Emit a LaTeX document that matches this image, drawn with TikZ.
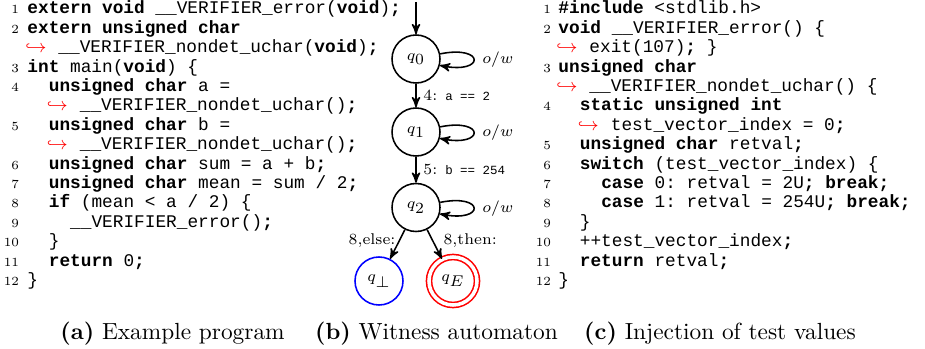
\documentclass[tikz,border=0pt]{standalone}
\usepackage{amsmath}
\usepackage{fontspec}
\setmonofont{Liberation Mono}
\usepackage{xcolor}
\usetikzlibrary{arrows}

% fonts for the listings, the automaton and the captions
\newcommand\codefont{\ttfamily\fontsize{8}{9}\selectfont}
\newcommand\numfont{\rmfamily\fontsize{5.6}{6.5}\selectfont}
\newcommand\autofont{\rmfamily\fontsize{7}{8}\selectfont}
\newcommand\captfont{\rmfamily\fontsize{10.5}{12}\selectfont}
\newcommand\ttl[1]{{\ttfamily\fontsize{5.6}{6}\selectfont #1}}

\begin{document}
\begin{tikzpicture}[x=0.45pt, y=-0.45pt, >=stealth',
    code/.style={anchor=base west, inner sep=0pt, font=\codefont},
    lnum/.style={anchor=base east, inner sep=0pt, font=\numfont},
    hook/.style={anchor=base west, inner sep=0pt, font=\codefont, text=red},
    state/.style={circle, draw, minimum size=21.6pt, inner sep=0pt, line width=0.7pt, font=\autofont},
    trans/.style={->, line width=0.7pt},
    lbl/.style={font=\autofont, inner sep=1.5pt},
    capt/.style={anchor=base, font=\captfont}]

    \useasboundingbox (0,0) rectangle (925,349);

    % (a) example program
    \foreach \n/\r in {1/0,2/1,3/3,4/4,5/6,6/8,7/9,8/10,9/11,10/12,11/13,12/14}
        \node[lnum] (na\n) at (19.5,{14+19.4*\r}) {\n};

    \node[code] (a1) at (27,14) {\textbf{extern void} \_\_VERIFIER\_error(\textbf{void})\textbf{;}};
    \node[code] (a2) at (27,33.4) {\textbf{extern unsigned char}};
    \node[hook] (a2h) at (25,52.8) {$\hookrightarrow$};
    \node[code] (a2b) at (58,52.8) {\_\_VERIFIER\_nondet\_uchar(\textbf{void})\textbf{;}};
    \node[code] (a3) at (27,72.2) {\textbf{int} main(\textbf{void}) \{};
    \node[code] (a4) at (48.4,91.6) {\textbf{unsigned char} a =};
    \node[hook] (a4h) at (46.4,111) {$\hookrightarrow$};
    \node[code] (a4b) at (79.4,111) {\_\_VERIFIER\_nondet\_uchar()\textbf{;}};
    \node[code] (a5) at (48.4,130.4) {\textbf{unsigned char} b =};
    \node[hook] (a5h) at (46.4,149.8) {$\hookrightarrow$};
    \node[code] (a5b) at (79.4,149.8) {\_\_VERIFIER\_nondet\_uchar()\textbf{;}};
    \node[code] (a6) at (48.4,169.2) {\textbf{unsigned char} sum = a + b\textbf{;}};
    \node[code] (a7) at (48.4,188.6) {\textbf{unsigned char} mean = sum / 2\textbf{;}};
    \node[code] (a8) at (48.4,208) {\textbf{if} (mean < a / 2) \{};
    \node[code] (a9) at (69.8,227.4) {\_\_VERIFIER\_error()\textbf{;}};
    \node[code] (a10) at (48.4,246.8) {\}};
    \node[code] (a11) at (48.4,266.2) {\textbf{return} 0\textbf{;}};
    \node[code] (a12) at (27,285.6) {\}};

    % (b) witness automaton
    \node[state] (q0) at (416,59) {$q_{\displaystyle 0}$};
    \node[state] (q1) at (416,132) {$q_{\displaystyle 1}$};
    \node[state] (q2) at (416,207.5) {$q_{\displaystyle 2}$};
    \node[state, draw=blue] (qbot) at (379,281) {$q_{\displaystyle\bot}$};
    \node[state, draw=red, double, double distance=1.6pt] (qerr) at (453,281) {$q_{\displaystyle E}$};

    \coordinate (init) at (416,2);
    \draw[trans] (init) -- (q0);
    \draw[trans] (q0) -- node[lbl, right, inner sep=3pt] (e01) {4: \ttl{a == 2}} (q1);
    \draw[trans] (q1) -- node[lbl, right, inner sep=3pt] (e12) {5: \ttl{b == 254}} (q2);
    \draw[trans] (q2) -- node[lbl, anchor=east, pos=0.36] (e2b) {8,else:} (qbot);
    \draw[trans] (q2) -- node[lbl, anchor=west, pos=0.38, xshift=3pt] (e2e) {8,then:} (qerr);

    % self loops
    \draw[trans] (q0.12) .. controls +(45,-9) and +(45,9) .. node[lbl, right=2pt] (l0) {$o/w$} (q0.-15);
    \draw[trans] (q1.12) .. controls +(45,-9) and +(45,9) .. node[lbl, right=2pt] (l1) {$o/w$} (q1.-15);
    \draw[trans] (q2.12) .. controls +(45,-9) and +(45,9) .. node[lbl, right=2pt] (l2) {$o/w$} (q2.-15);

    % (c) injection of test values
    \foreach \n/\r in {1/0,2/1,3/3,4/5,5/7,6/8,7/9,8/10,9/11,10/12,11/13,12/14}
        \node[lnum] (nc\n) at (551.5,{14+19.4*\r}) {\n};

    \node[code] (c1) at (558,14) {\textbf{\#include} <stdlib.h>};
    \node[code] (c2) at (558,33.4) {\textbf{void} \_\_VERIFIER\_error() \{};
    \node[hook] (c2h) at (556,52.8) {$\hookrightarrow$};
    \node[code] (c2b) at (589,52.8) {exit(107)\textbf{;} \}};
    \node[code] (c3) at (558,72.2) {\textbf{unsigned char}};
    \node[hook] (c3h) at (556,91.6) {$\hookrightarrow$};
    \node[code] (c3b) at (589,91.6) {\_\_VERIFIER\_nondet\_uchar() \{};
    \node[code] (c4) at (579.4,111) {\textbf{static unsigned int}};
    \node[hook] (c4h) at (577.4,130.4) {$\hookrightarrow$};
    \node[code] (c4b) at (610.4,130.4) {test\_vector\_index = 0\textbf{;}};
    \node[code] (c5) at (579.4,149.8) {\textbf{unsigned char} retval\textbf{;}};
    \node[code] (c6) at (579.4,169.2) {\textbf{switch} (test\_vector\_index) \{};
    \node[code] (c7) at (600.8,188.6) {\textbf{case} 0: retval = 2U\textbf{;} \textbf{break;}};
    \node[code] (c8) at (600.8,208) {\textbf{case} 1: retval = 254U\textbf{;} \textbf{break;}};
    \node[code] (c9) at (579.4,227.4) {\}};
    \node[code] (c10) at (579.4,246.8) {++test\_vector\_index\textbf{;}};
    \node[code] (c11) at (579.4,266.2) {\textbf{return} retval\textbf{;}};
    \node[code] (c12) at (558,285.6) {\}};

    % captions
    \node[capt] (capa) at (172.5,339) {\textbf{(a)} Example program};
    \node[capt] (capb) at (436.5,339) {\textbf{(b)} Witness automaton};
    \node[capt] (capc) at (720,339) {\textbf{(c)} Injection of test values};
\end{tikzpicture}
\end{document}
